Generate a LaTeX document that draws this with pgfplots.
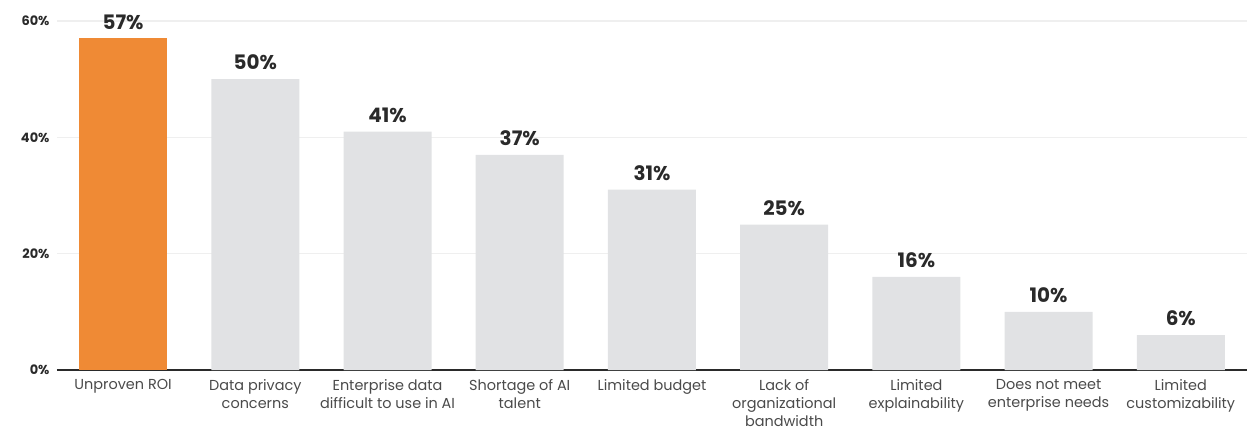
\documentclass[border=0pt]{standalone}
\usepackage{fontspec}
\setmainfont{Poppins}
\usepackage{pgfplots}
\pgfplotsset{compat=1.18}
\definecolor{orangebar}{HTML}{EF8A35}
\definecolor{graybar}{HTML}{E1E2E4}
\definecolor{gridc}{HTML}{EFEFEF}
\definecolor{txt}{HTML}{2A2A2A}
\begin{document}
\begin{tikzpicture}
\begin{axis}[
  at={(0,0)}, anchor=south west,
  scale only axis,
  width=1190bp, height=349bp,
  xmin=-0.5, xmax=8.5,
  ymin=0, ymax=60,
  ytick={0,20,40,60},
  yticklabel={\pgfmathprintnumber{\tick}\%},
  /pgf/number format/assume math mode=true,
  yticklabel style={font=\fontsize{13}{14}\selectfont\bfseries, text=txt, xshift=-4bp},
  ymajorgrids,
  grid style={gridc, line width=1.2bp},
  major tick length=0pt,
  axis x line*=bottom,
  axis y line*=left,
  y axis line style={draw=none},
  x axis line style={txt, line width=1.5bp, -},
  xtick={0,1,2,3,4,5,6,7,8},
  xticklabels={{Unproven ROI}, {Data privacy\\concerns}, {Enterprise data\\difficult to use in AI}, {Shortage of AI\\talent}, {Limited budget}, {Lack of\\organizational\\bandwidth}, {Limited\\explainability}, {Does not meet\\enterprise needs}, {Limited\\customizability}},
  xticklabel style={font=\fontsize{14.5}{18}\selectfont, text=txt!85, align=center, yshift=-6bp},
  ybar, bar width=88bp, bar shift=0pt,
  nodes near coords={\pgfmathprintnumber{\pgfplotspointmeta}\%},
  nodes near coords style={font=\fontsize{20}{22}\selectfont\bfseries, text=txt, anchor=south, yshift=5.5bp},
  clip=false,
]
\addplot[fill=orangebar, draw=none] coordinates {(0,57)};
\addplot[fill=graybar, draw=none] coordinates {(1,50) (2,41) (3,37) (4,31) (5,25) (6,16) (7,10) (8,6)};
\end{axis}
\pgfresetboundingbox
\path (-57bp,-60bp) rectangle (1190bp,370bp);
\end{tikzpicture}
\end{document}
